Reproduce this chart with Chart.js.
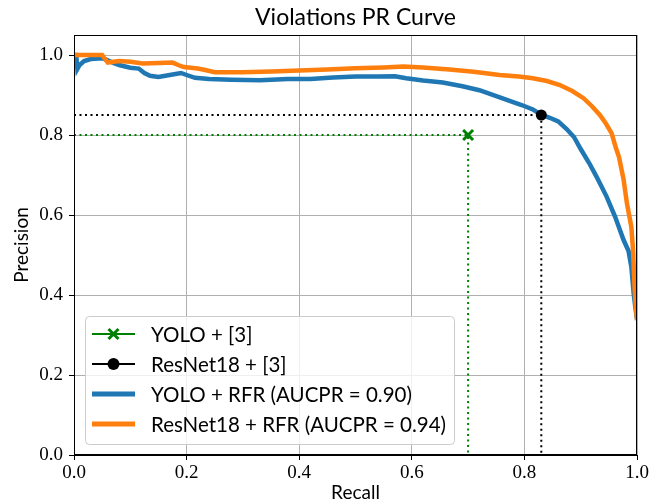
<!DOCTYPE html>
<html>
<head>
<meta charset="utf-8">
<script src="https://cdn.jsdelivr.net/npm/chart.js@4/dist/chart.umd.min.js"></script>
<style>
  body { margin: 0; background: #fff; }
  #wrap { width: 660px; height: 504px; }
</style>
</head>
<body>
<div id="wrap"><canvas id="prChart" width="660" height="504"></canvas></div>
<script>
// PR curve values
const yoloRecall = [0, 0.004, 0.006, 0.01, 0.018, 0.03, 0.05, 0.058, 0.07, 0.08, 0.1, 0.115, 0.125, 0.135, 0.15, 0.17, 0.19, 0.2, 0.215, 0.24, 0.28, 0.33, 0.38, 0.42, 0.46, 0.5, 0.54, 0.57, 0.59, 0.62, 0.655, 0.69, 0.72, 0.75, 0.77, 0.795, 0.815, 0.828, 0.845, 0.86, 0.875, 0.888, 0.9, 0.915, 0.928, 0.946, 0.961, 0.976, 0.985, 0.99, 0.994, 0.997, 1.0];
const yoloPrecision = [1.0, 1.0, 0.965, 0.975, 0.985, 0.99, 0.992, 0.988, 0.98, 0.975, 0.968, 0.966, 0.955, 0.948, 0.945, 0.95, 0.955, 0.95, 0.943, 0.94, 0.938, 0.937, 0.94, 0.94, 0.944, 0.946, 0.946, 0.947, 0.942, 0.936, 0.931, 0.922, 0.912, 0.897, 0.887, 0.875, 0.864, 0.852, 0.843, 0.834, 0.815, 0.795, 0.765, 0.73, 0.696, 0.646, 0.596, 0.538, 0.51, 0.47, 0.405, 0.37, 0.34];

const resnetRecall = [0, 0.05, 0.055, 0.06, 0.08, 0.1, 0.122, 0.15, 0.175, 0.185, 0.195, 0.22, 0.235, 0.25, 0.3, 0.35, 0.4, 0.45, 0.5, 0.55, 0.585, 0.62, 0.667, 0.71, 0.756, 0.79, 0.815, 0.84, 0.863, 0.885, 0.905, 0.92, 0.934, 0.945, 0.955, 0.962, 0.968, 0.976, 0.982, 0.986, 0.99, 0.993, 0.996, 0.998, 1.0];
const resnetPrecision = [1.0, 1.0, 0.99, 0.981, 0.985, 0.983, 0.979, 0.98, 0.981, 0.975, 0.97, 0.966, 0.962, 0.957, 0.957, 0.959, 0.961, 0.964, 0.967, 0.969, 0.971, 0.969, 0.964, 0.958, 0.95, 0.946, 0.942, 0.935, 0.925, 0.91, 0.892, 0.872, 0.85, 0.828, 0.804, 0.77, 0.745, 0.69, 0.63, 0.6, 0.57, 0.51, 0.41, 0.37, 0.337];

// single operating points of the baselines
const yoloPoint = [0.70, 0.80];
const resnetPoint = [0.83, 0.85];

const seriesLabels = ['YOLO + [3]', 'ResNet18 + [3]', 'YOLO + RFR (AUCPR = 0.90)', 'ResNet18 + RFR (AUCPR = 0.94)'];
const xTicks = [0, 0.2, 0.4, 0.6, 0.8, 1.0];
const yTicks = [0, 0.2, 0.4, 0.6, 0.8, 1.0];

const toXY = (xs, ys) => xs.map((x, i) => ({ x: x, y: ys[i] }));
const guide = p => [{ x: 0, y: p[1] }, { x: p[0], y: p[1] }, { x: p[0], y: 0 }];

const sansFont = 'Lato, "DejaVu Sans", sans-serif';
const serifFont = '"Liberation Serif", "DejaVu Serif", serif';

// frame on all four sides + legend inside the plot (lower left)
const framePlugin = {
  id: 'frame',
  afterDraw(chart) {
    const ctx = chart.ctx;
    const a = chart.chartArea;
    ctx.save();
    ctx.strokeStyle = '#000';
    ctx.lineWidth = 1;
    ctx.strokeRect(Math.round(a.left) + 0.5, Math.round(a.top) + 0.5,
      Math.round(a.right - a.left) - 1, Math.round(a.bottom - a.top) - 1);

    // legend
    const items = chart.data.datasets.filter(d => d.legend);
    ctx.font = '20.5px ' + sansFont;
    const textW = Math.max(...items.map(d => ctx.measureText(d.label).width));
    const bx = a.left + 11, rowH = 30;
    const bw = 66 + textW + 8, bh = 16 + rowH * items.length - 8;
    const by = a.bottom - 11 - bh;
    ctx.beginPath();
    ctx.roundRect(bx + 0.5, by + 0.5, bw, bh, 4);
    ctx.fillStyle = 'rgba(255,255,255,0.8)';
    ctx.fill();
    ctx.strokeStyle = '#cccccc';
    ctx.stroke();

    items.forEach((d, i) => {
      const cy = by + 18 + i * rowH;
      const x0 = bx + 7, x1 = bx + 50, xm = (x0 + x1) / 2;
      ctx.strokeStyle = d.borderColor;
      ctx.lineWidth = d.legend === 'marker' ? 2 : 5;
      ctx.beginPath();
      ctx.moveTo(x0, cy);
      ctx.lineTo(x1, cy);
      ctx.stroke();
      if (d.pointStyle === 'crossRot') {
        ctx.lineWidth = 3;
        ctx.beginPath();
        ctx.moveTo(xm - 5, cy - 5); ctx.lineTo(xm + 5, cy + 5);
        ctx.moveTo(xm - 5, cy + 5); ctx.lineTo(xm + 5, cy - 5);
        ctx.stroke();
      } else if (d.pointStyle === 'circle') {
        ctx.fillStyle = d.borderColor;
        ctx.beginPath();
        ctx.arc(xm, cy, 6, 0, Math.PI * 2);
        ctx.fill();
      }
      ctx.fillStyle = '#000';
      ctx.textBaseline = 'middle';
      ctx.textAlign = 'left';
      ctx.fillText(d.label, bx + 66, cy + 1);
    });
    ctx.restore();
  }
};

new Chart(document.getElementById('prChart'), {
  type: 'scatter',
  data: {
    datasets: [
      {
        label: seriesLabels[0], legend: 'marker',
        data: [{ x: yoloPoint[0], y: yoloPoint[1] }],
        pointStyle: 'crossRot', pointRadius: 7, pointBorderWidth: 3,
        borderColor: '#008000', backgroundColor: '#008000', order: 0
      },
      {
        label: seriesLabels[1], legend: 'marker',
        data: [{ x: resnetPoint[0], y: resnetPoint[1] }],
        pointStyle: 'circle', pointRadius: 5.5, pointBorderWidth: 0,
        borderColor: '#000000', backgroundColor: '#000000', order: 0
      },
      {
        label: seriesLabels[2], legend: 'line',
        data: toXY(yoloRecall, yoloPrecision),
        showLine: true, pointRadius: 0, borderWidth: 4.5,
        borderColor: '#1f77b4', backgroundColor: '#1f77b4', order: 2
      },
      {
        label: seriesLabels[3], legend: 'line',
        data: toXY(resnetRecall, resnetPrecision),
        showLine: true, pointRadius: 0, borderWidth: 4.5,
        borderColor: '#ff7f0e', backgroundColor: '#ff7f0e', order: 1
      },
      {
        label: '', data: guide(yoloPoint),
        showLine: true, pointRadius: 0, borderWidth: 2, borderDash: [2, 3.5],
        borderColor: '#008000', order: 3
      },
      {
        label: '', data: guide(resnetPoint),
        showLine: true, pointRadius: 0, borderWidth: 2, borderDash: [2, 3.5],
        borderColor: '#000000', order: 3
      }
    ]
  },
  options: {
    responsive: false,
    animation: false,
    layout: { padding: { left: 0, right: 23, top: 0, bottom: 0 } },
    plugins: {
      legend: { display: false },
      tooltip: { enabled: false },
      title: {
        display: true,
        fullSize: false,
        text: 'Violations PR Curve',
        color: '#000',
        font: { family: sansFont, size: 23, weight: 'normal' },
        padding: { top: 4, bottom: 3.4 }
      }
    },
    scales: {
      x: {
        type: 'linear', min: 0, max: 1,
        afterBuildTicks: s => { s.ticks = xTicks.map(v => ({ value: v })); },
        afterFit: s => { s.height = 49; },
        ticks: {
          color: '#000', padding: 2, maxRotation: 0,
          font: { family: serifFont, size: 19 },
          callback: v => v.toFixed(1)
        },
        grid: { color: '#b0b0b0', lineWidth: 1, tickLength: 5, tickColor: '#000' },
        border: { display: true, color: '#000', width: 1 },
        title: {
          display: true, text: 'Recall', color: '#000',
          font: { family: sansFont, size: 19 },
          padding: { top: 0, bottom: 0 }
        }
      },
      y: {
        type: 'linear', min: 0, max: 1.05,
        afterBuildTicks: s => { s.ticks = yTicks.map(v => ({ value: v })); },
        afterFit: s => { s.width = 74; },
        ticks: {
          color: '#000', padding: 6,
          font: { family: serifFont, size: 19 },
          callback: v => v.toFixed(1)
        },
        grid: { color: '#b0b0b0', lineWidth: 1, tickLength: 5, tickColor: '#000' },
        border: { display: true, color: '#000', width: 1 },
        title: {
          display: true, text: 'Precision', color: '#000',
          font: { family: sansFont, size: 19 },
          padding: { top: 10, bottom: 0 }
        }
      }
    }
  },
  plugins: [framePlugin]
});
</script>
</body>
</html>
